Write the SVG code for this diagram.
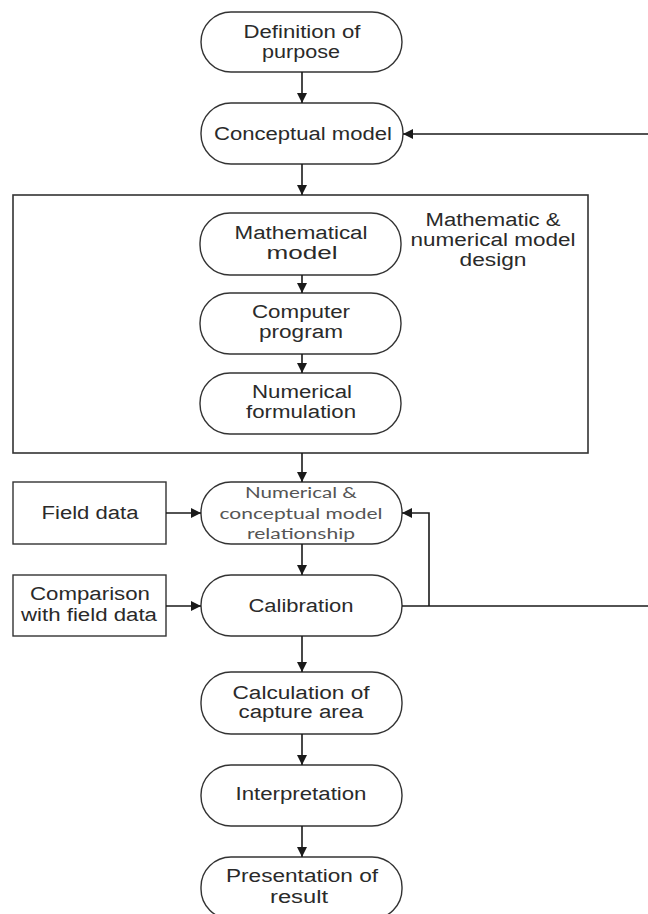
<svg xmlns="http://www.w3.org/2000/svg" width="648" height="914" viewBox="0 0 648 914">
<defs>
<marker id="ah" viewBox="0 0 10 10" refX="10" refY="5" markerWidth="10" markerHeight="10" markerUnits="userSpaceOnUse" orient="auto">
<path d="M0,0 L10,5 L0,10 z" fill="#1a1a1a"/>
</marker>
<style>
.bg{fill:#ffffff}
.node{fill:#ffffff;stroke:#333333;stroke-width:1.4}
.frame{fill:none;stroke:#333333;stroke-width:1.6}
.t{font-family:"Liberation Sans",Arial,sans-serif;font-size:18px;fill:#2a2a2a;text-anchor:middle}
.c{font-family:Lato,"Open Sans",sans-serif;font-size:14.5px;fill:#555555;text-anchor:middle}
.conn path{fill:none;stroke:#1a1a1a;stroke-width:1.6}
.arr{marker-end:url(#ah)}
</style>
</defs>
<rect class="bg" x="0" y="0" width="648" height="914"/>

<g id="design-box">
<rect class="frame" x="13" y="195" width="575" height="258"/>
<text class="t" x="493" y="226" textLength="135" lengthAdjust="spacingAndGlyphs">Mathematic &amp;</text>
<text class="t" x="493" y="246" textLength="165" lengthAdjust="spacingAndGlyphs">numerical model</text>
<text class="t" x="493" y="266" textLength="67" lengthAdjust="spacingAndGlyphs">design</text>
</g>

<g id="definition">
<rect class="node" x="201" y="12" width="201" height="60" rx="30" ry="30"/>
<text class="t" x="302" y="38" textLength="117" lengthAdjust="spacingAndGlyphs">Definition of</text>
<text class="t" x="301" y="58" textLength="78" lengthAdjust="spacingAndGlyphs">purpose</text>
</g>

<g id="conceptual">
<rect class="node" x="201" y="103" width="202" height="61" rx="30" ry="30"/>
<text class="t" x="303" y="140" textLength="178" lengthAdjust="spacingAndGlyphs">Conceptual model</text>
</g>

<g id="mathematical">
<rect class="node" x="200" y="213" width="201" height="62" rx="30" ry="30"/>
<text class="t" x="301" y="239" textLength="133" lengthAdjust="spacingAndGlyphs">Mathematical</text>
<text class="t" x="302" y="259" textLength="71" lengthAdjust="spacingAndGlyphs">model</text>
</g>

<g id="computer">
<rect class="node" x="200" y="293" width="201" height="61" rx="30" ry="30"/>
<text class="t" x="301" y="318" textLength="98" lengthAdjust="spacingAndGlyphs">Computer</text>
<text class="t" x="301" y="338" textLength="84" lengthAdjust="spacingAndGlyphs">program</text>
</g>

<g id="numerical">
<rect class="node" x="200" y="373" width="201" height="61" rx="30" ry="30"/>
<text class="t" x="302" y="398" textLength="100" lengthAdjust="spacingAndGlyphs">Numerical</text>
<text class="t" x="301" y="418" textLength="110" lengthAdjust="spacingAndGlyphs">formulation</text>
</g>

<g id="field-data">
<rect class="node" x="13" y="482" width="153" height="62"/>
<text class="t" x="90" y="519" textLength="97" lengthAdjust="spacingAndGlyphs">Field data</text>
</g>

<g id="relationship">
<rect class="node" x="201" y="482" width="201" height="62" rx="30" ry="30"/>
<text class="c" x="301" y="498" textLength="112" lengthAdjust="spacingAndGlyphs">Numerical &amp;</text>
<text class="c" x="301" y="519" textLength="163" lengthAdjust="spacingAndGlyphs">conceptual model</text>
<text class="c" x="301" y="539" textLength="108" lengthAdjust="spacingAndGlyphs">relationship</text>
</g>

<g id="comparison">
<rect class="node" x="13" y="575" width="153" height="61"/>
<text class="t" x="90" y="600" textLength="120" lengthAdjust="spacingAndGlyphs">Comparison</text>
<text class="t" x="89" y="621" textLength="136" lengthAdjust="spacingAndGlyphs">with field data</text>
</g>

<g id="calibration">
<rect class="node" x="201" y="575" width="201" height="61" rx="30" ry="30"/>
<text class="t" x="301" y="612" textLength="105" lengthAdjust="spacingAndGlyphs">Calibration</text>
</g>

<g id="capture-area">
<rect class="node" x="201" y="672" width="201" height="62" rx="30" ry="30"/>
<text class="t" x="301" y="699" textLength="137" lengthAdjust="spacingAndGlyphs">Calculation of</text>
<text class="t" x="301" y="718" textLength="125" lengthAdjust="spacingAndGlyphs">capture area</text>
</g>

<g id="interpretation">
<rect class="node" x="201" y="765" width="201" height="61" rx="30" ry="30"/>
<text class="t" x="301" y="800" textLength="131" lengthAdjust="spacingAndGlyphs">Interpretation</text>
</g>

<g id="presentation">
<rect class="node" x="201" y="857" width="201" height="62" rx="30" ry="30"/>
<text class="t" x="302" y="882" textLength="152" lengthAdjust="spacingAndGlyphs">Presentation of</text>
<text class="t" x="299" y="903" textLength="58" lengthAdjust="spacingAndGlyphs">result</text>
</g>

<g id="connectors" class="conn">
<path class="arr" d="M302,72 V103"/>
<path class="arr" d="M648,134 H403"/>
<path class="arr" d="M302,164 V195"/>
<path class="arr" d="M302,275 V293"/>
<path class="arr" d="M302,354 V373"/>
<path class="arr" d="M302,453 V482"/>
<path class="arr" d="M166,513 H201"/>
<path class="arr" d="M302,544 V575"/>
<path class="arr" d="M166,606 H201"/>
<path d="M402,606 H648"/>
<path class="arr" d="M429,606 V513 H402"/>
<path class="arr" d="M302,636 V672"/>
<path class="arr" d="M302,734 V765"/>
<path class="arr" d="M302,826 V857"/>
</g>
</svg>
